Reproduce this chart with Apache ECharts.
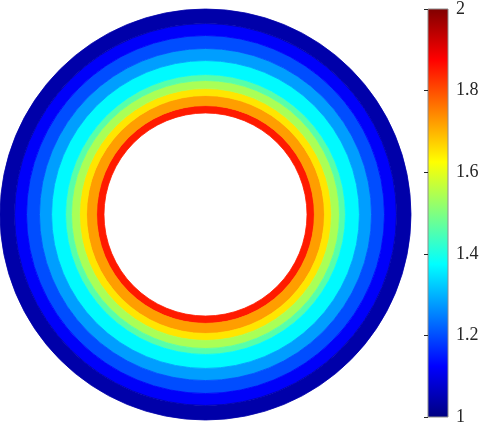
<!DOCTYPE html>
<html><head><meta charset="utf-8">
<script src="https://cdn.jsdelivr.net/npm/echarts@6/dist/echarts.min.js"></script>
<style>html,body{margin:0;padding:0;background:#fff}#c{width:482px;height:426px}</style>
</head><body><div id="c"></div>
<script>
// Radial bands of the annulus (radius as a fraction of the outer radius) and their values
const ringInner = [0.494, 0.530, 0.579, 0.613, 0.652, 0.681, 0.749, 0.808, 0.871, 0.929];
const ringOuter = [0.530, 0.579, 0.613, 0.652, 0.681, 0.749, 0.808, 0.871, 0.929, 1.000];
const ringValue = [1.85, 1.72, 1.65, 1.54, 1.46, 1.37, 1.28, 1.20, 1.12, 1.04];
// Colour bar range and tick labels
const cbarMin = 1, cbarMax = 2, cbarStep = 0.2;
const jet = ['#000080','#0000ff','#0080ff','#00ffff','#80ff80','#ffff00','#ff8000','#ff0000','#800000'];

const rings = ringInner.map((r0, i) => [r0, ringOuter[i], ringValue[i]]);

const chart = echarts.init(document.getElementById('c'), null, {renderer: 'canvas'});
chart.setOption({
  backgroundColor: '#ffffff',
  animation: false,
  polar: {center: [205.5, 214.5], radius: [0, 205.5]},
  radiusAxis: {type: 'value', min: 0, max: 1, show: false},
  angleAxis: {type: 'value', min: 0, max: 360, show: false},
  grid: {left: 428, top: 9, width: 20, height: 411},
  xAxis: {type: 'value', min: 0, max: 1, show: false},
  yAxis: {
    type: 'value', min: cbarMin, max: cbarMax, interval: cbarStep, position: 'right', z: 5,
    axisLine: {show: false},
    axisTick: {show: true, inside: true, length: 4, lineStyle: {color: '#262626', width: 1}},
    axisLabel: {margin: 8, fontFamily: 'Liberation Serif', fontSize: 18, color: '#262626'},
    splitLine: {show: false}
  },
  visualMap: {show: false, min: cbarMin, max: cbarMax, dimension: 2, seriesIndex: 0, inRange: {color: jet}},
  series: [
    {
      type: 'custom', coordinateSystem: 'polar', data: rings,
      renderItem: function (params, api) {
        const c = api.coord([0, 0]);
        const pi = api.coord([api.value(0), 0]);
        const po = api.coord([api.value(1), 0]);
        const r0 = Math.hypot(pi[0] - c[0], pi[1] - c[1]);
        const r = Math.hypot(po[0] - c[0], po[1] - c[1]);
        const col = api.visual('color');
        return {type: 'sector', shape: {cx: c[0], cy: c[1], r0: r0, r: r, startAngle: 0, endAngle: Math.PI * 2},
          style: {fill: col, stroke: col, lineWidth: 0.8}};
      }
    },
    {
      type: 'custom', coordinateSystem: 'cartesian2d', data: [[0, cbarMax, 1, cbarMin]],
      renderItem: function (params, api) {
        const p0 = api.coord([api.value(0), api.value(1)]);
        const p1 = api.coord([api.value(2), api.value(3)]);
        const stops = jet.map((c, i) => ({offset: i / (jet.length - 1), color: c}));
        return {type: 'rect', shape: {x: p0[0], y: p0[1], width: p1[0] - p0[0], height: p1[1] - p0[1]},
          style: {fill: new echarts.graphic.LinearGradient(0, 1, 0, 0, stops), stroke: '#8c8c8c', lineWidth: 1}};
      }
    }
  ]
});
</script></body></html>
